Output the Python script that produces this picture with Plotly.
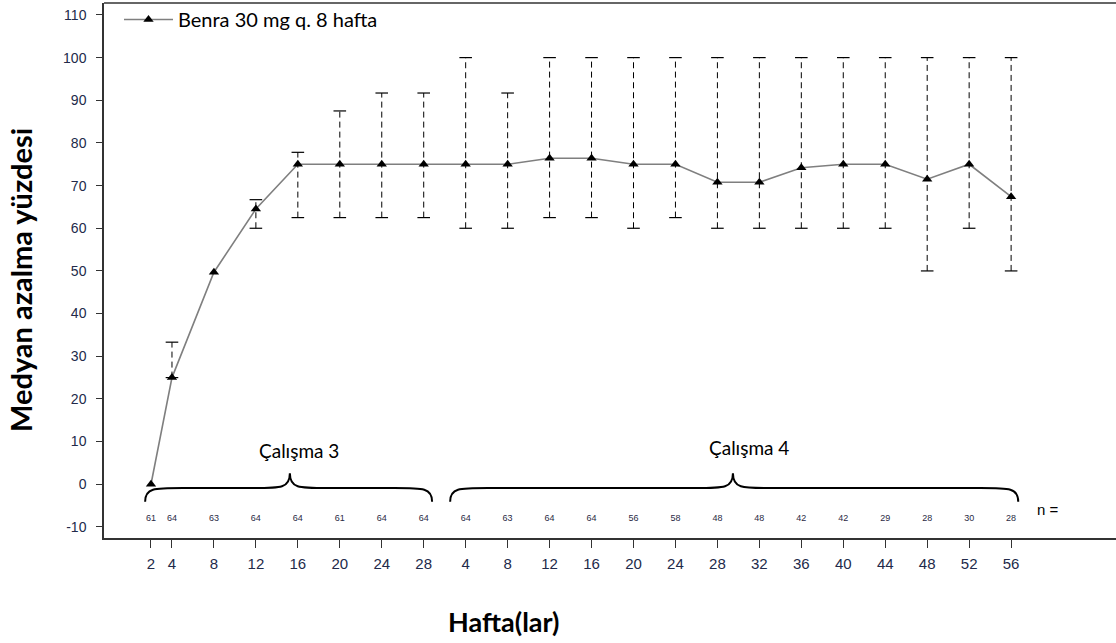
import plotly.graph_objects as go

# ---------------- data ----------------
study3_weeks = [2, 4, 8, 12, 16, 20, 24, 28]
study4_weeks = [4, 8, 12, 16, 20, 24, 28, 32, 36, 40, 44, 48, 52, 56]

study3_median = [0, 25, 49.7, 64.5, 75, 75, 75, 75]
study4_median = [75, 75, 76.4, 76.4, 75, 75, 70.8, 70.8, 74.2, 75, 75, 71.5, 75, 67.4]

study3_upper = [None, 33.3, None, 66.7, 77.8, 87.5, 91.7, 91.7]
study3_lower = [None, 25, None, 60, 62.5, 62.5, 62.5, 62.5]
study4_upper = [100, 91.7, 100, 100, 100, 100, 100, 100, 100, 100, 100, 100, 100, 100]
study4_lower = [60, 60, 62.5, 62.5, 60, 62.5, 60, 60, 60, 60, 60, 50, 60, 50]

study3_n = [61, 64, 63, 64, 64, 61, 64, 64]
study4_n = [64, 63, 64, 64, 56, 58, 48, 48, 42, 42, 29, 28, 30, 28]

series_name = "Benra 30 mg q. 8 hafta"
study_labels = ["Çalışma 3", "Çalışma 4"]
y_ticks = list(range(-10, 111, 10))

# ---------------- positions on a continuous axis ----------------
x3 = [w / 4 for w in study3_weeks]
x4 = [7 + w / 4 for w in study4_weeks]
xs = x3 + x4
weeks = study3_weeks + study4_weeks
med = study3_median + study4_median
up = study3_upper + study4_upper
lo = study3_lower + study4_lower
ns = study3_n + study4_n

W, H = 1116, 643
L, R, T, B = 104, 0, 3, 105
pw, ph = W - L - R, H - T - B


def px_to_paper(xp, yp):
    return (xp - L) / pw, (H - B - yp) / ph


fig = go.Figure()

# dashed error bars
ex, ey, cx, cy = [], [], [], []
for x, u, l in zip(xs, up, lo):
    if u is None or l is None:
        continue
    ex += [x, x, None]
    ey += [l, u, None]
    cx += [x, x]
    cy += [l, u]
fig.add_trace(go.Scatter(x=ex, y=ey, mode="lines", showlegend=False, hoverinfo="skip",
                         line=dict(color="black", width=1, dash="6px,4px")))
fig.add_trace(go.Scatter(x=cx, y=cy, mode="markers", showlegend=False, hoverinfo="skip",
                         marker=dict(symbol="line-ew", size=9, line=dict(color="black", width=1.2))))

# median line
fig.add_trace(go.Scatter(x=xs, y=med, mode="lines+markers", name=series_name,
                         line=dict(color="#7f7f7f", width=1.6),
                         marker=dict(symbol="triangle-up", size=9, color="black")))

# n labels
fig.add_trace(go.Scatter(x=xs, y=[-8.2] * len(xs), mode="text", text=[str(n) for n in ns],
                         showlegend=False, hoverinfo="skip",
                         textfont=dict(family="Liberation Sans, Arial", size=9, color="#2a2a44")))


# braces (data coordinates)
def brace(x0, x1, xm, yb=-4.1, yf=-0.9, yp=2.6):
    r = 0.9
    return (f"M {x0},{yb} C {x0},{yf} {x0+0.2},{yf} {x0+r},{yf} "
            f"L {xm-r},{yf} C {xm-0.2},{yf} {xm},{yf} {xm},{yp} "
            f"C {xm},{yf} {xm+0.2},{yf} {xm+r},{yf} "
            f"L {x1-r},{yf} C {x1-0.2},{yf} {x1},{yf} {x1},{yb}")


fig.add_shape(type="path", path=brace(0.36, 7.2, 3.81), xref="x", yref="y",
              line=dict(color="black", width=2))
fig.add_shape(type="path", path=brace(7.63, 21.17, 14.37), xref="x", yref="y",
              line=dict(color="black", width=2))

# top border of frame
fig.add_shape(type="line", xref="paper", yref="paper", x0=0, x1=1, y0=1, y1=1,
              line=dict(color="#333", width=1.5))

fig.add_annotation(x=4.03, y=8.0, xref="x", yref="y", text=study_labels[0], showarrow=False,
                   font=dict(family="Lato", size=19, color="black"))
fig.add_annotation(x=14.76, y=8.5, xref="x", yref="y", text=study_labels[1], showarrow=False,
                   font=dict(family="Lato", size=19, color="black"))
fig.add_annotation(x=21.88, y=-6.0, xref="x", yref="y", text="n =", showarrow=False,
                   font=dict(family="Liberation Sans, Arial", size=15, color="black"))

# axis titles
ax, ay = px_to_paper(503, 621)
fig.add_annotation(x=ax, y=ay, xref="paper", yref="paper", xanchor="center", yanchor="middle",
                   text="<b>Hafta(lar)</b>", showarrow=False,
                   font=dict(family="Lato", size=27, color="black"))
ax, ay = px_to_paper(20, 280)
fig.add_annotation(x=ax, y=ay, xref="paper", yref="paper", xanchor="center", yanchor="middle",
                   text="<b>Medyan azalma yüzdesi</b>", textangle=-90, showarrow=False,
                   font=dict(family="Lato", size=29, color="black"))

lx, ly = px_to_paper(119, 0)
tick_color = "#222a4a"
fig.update_layout(
    width=W, height=H,
    margin=dict(l=L, r=R, t=T, b=B, autoexpand=False),
    plot_bgcolor="white", paper_bgcolor="white",
    showlegend=True,
    legend=dict(x=lx, y=ly, xanchor="left", yanchor="top", bgcolor="rgba(0,0,0,0)",
                font=dict(family="Lato", size=20, color="black"), itemwidth=49,
                borderwidth=0),
    xaxis=dict(range=[-0.62, 23.5], tickmode="array", tickvals=xs, ticktext=[str(w) for w in weeks],
               showgrid=False, zeroline=False, showline=True, linecolor="#333", linewidth=1.5,
               ticks="outside", ticklen=8, tickcolor="#333", ticklabelstandoff=3,
               tickfont=dict(family="Liberation Sans, Arial", size=15, color=tick_color)),
    yaxis=dict(range=[-12.6, 112.8], tickmode="array", tickvals=y_ticks,
               ticktext=[str(v) for v in y_ticks],
               showgrid=False, zeroline=False, showline=True, linecolor="#333", linewidth=1.5,
               ticks="outside", ticklen=6, tickcolor="#333", ticklabelstandoff=7,
               tickfont=dict(family="Liberation Sans, Arial", size=14, color=tick_color)),
)

fig.write_html("out.html", config={"displayModeBar": False},
               post_script="document.body.style.margin='0px';document.body.style.overflow='hidden';")
